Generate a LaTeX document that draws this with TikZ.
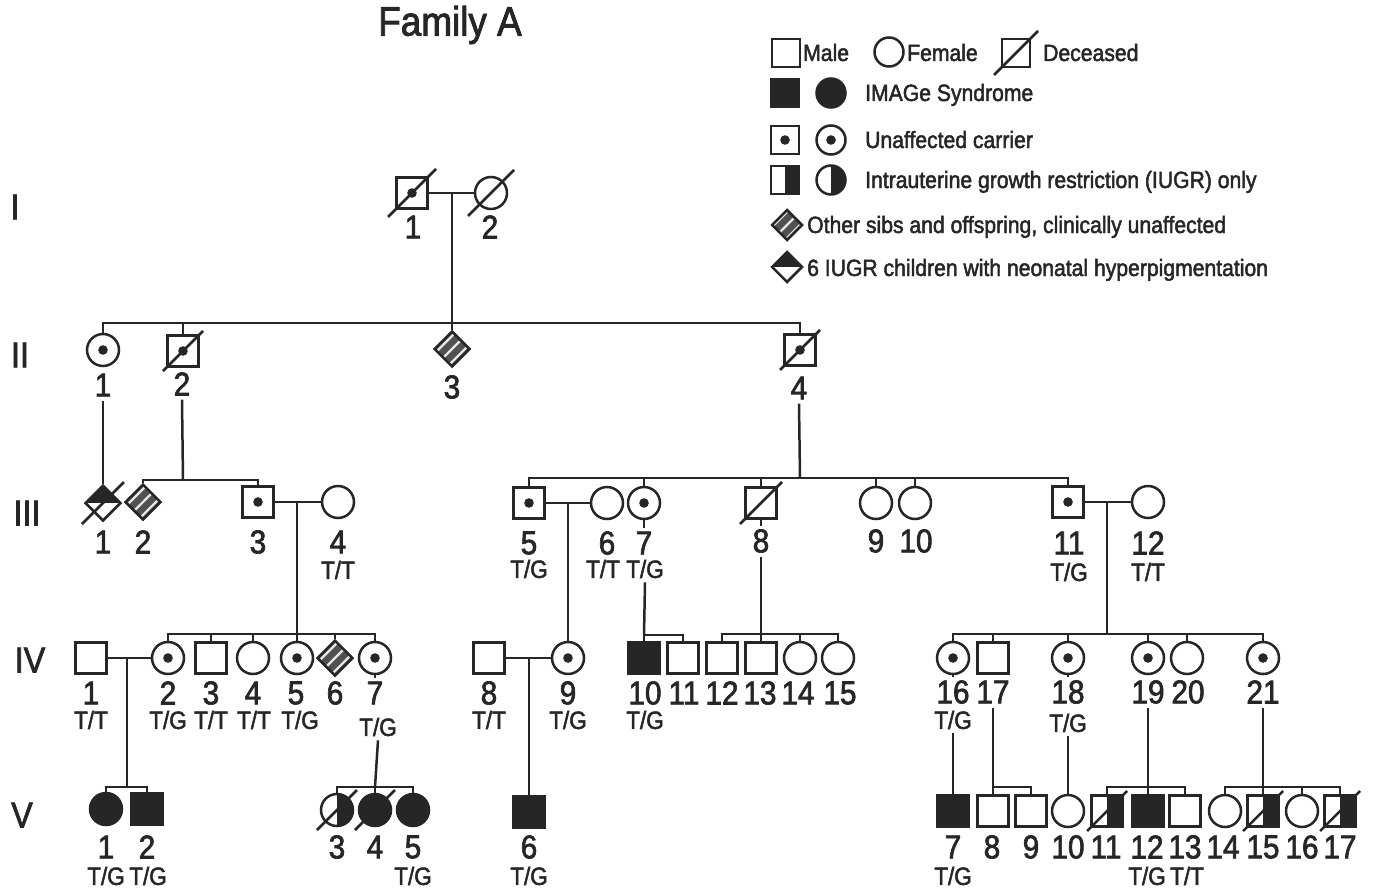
\documentclass[tikz,border=0pt]{standalone}
\usepackage{fontspec}
\setmainfont{Liberation Sans}[FakeStretch=0.9,FakeBold=2]
\usetikzlibrary{shapes.geometric}
\definecolor{ink}{HTML}{262626}
\tikzset{
 base/.style={draw=ink, line width=2.5pt, inner sep=0pt, fill=white},
 male/.style={base, rectangle, minimum size=31pt},
 female/.style={base, circle, minimum size=32pt},
 sibd/.style={base, diamond, minimum size=36pt},
 aff/.style={fill=ink},
 carrier/.style={path picture={\fill[ink] (path picture bounding box.center) circle (4.8pt);}},
 iugr/.style={path picture={\fill[ink] (path picture bounding box.north) rectangle (path picture bounding box.south east);}},
 tophalf/.style={path picture={\fill[ink] (path picture bounding box.west) rectangle (path picture bounding box.north east);}},
 hatch/.style={fill=ink!80, path picture={
   \foreach \d in {-6.5,0,6.5}{\draw[white!90!black,line width=2.4pt] ([shift={(\d-20,\d+20)}]path picture bounding box.center) -- ([shift={(\d+20,\d-20)}]path picture bounding box.center);}}},
 lbl/.style={font=\fontsize{33}{33}\selectfont, inner sep=0pt, text=ink},
 geno/.style={font=\fontsize{25}{25}\selectfont, inner sep=0pt, text=ink},
 gen/.style={font=\fontsize{36}{36}\selectfont, inner sep=1pt, text=ink},
 leg/.style={font=\fontsize{23.5}{23.5}\selectfont, anchor=base west, inner sep=0pt, text=ink},
 ln/.style={draw=ink, line width=2.5pt},
}
\newcommand\decd[2][20]{\draw[ln] ([shift={(-#1,#1)}]#2.center) -- ([shift={(#1,-#1)}]#2.center);}
\begin{document}
\begin{tikzpicture}[x=1pt,y=-1pt]
\fill[white] (0,0) rectangle (1383,888);
\useasboundingbox (0,0) rectangle (1383,888);

% title and generation numerals
\node[font=\fontsize{41}{41}\selectfont, text=ink] (title) at (450,25) {Family A};
\node[gen] (gI) at (15,207) {I};
\node[gen] (gII) at (20,355) {II};
\node[gen] (gIII) at (27,513) {III};
\node[gen] (gIV) at (30,660) {IV};
\node[gen] (gV) at (22,815) {V};

% ---------- legend ----------
\node[male,minimum size=28pt] (Lm) at (786,53) {};
\node[leg] (Lmt) at (803,61) {Male};
\node[female,minimum size=29pt] (Lf) at (889,52) {};
\node[leg] (Lft) at (907,61) {Female};
\node[male,minimum size=28pt] (Ld) at (1016,53) {};
\node[leg] (Ldt) at (1043,61) {Deceased};
\node[male,aff,minimum size=28pt] (La1) at (785,93) {};
\node[female,aff,minimum size=29pt] (La2) at (831,93) {};
\node[leg] (Lat) at (865,101) {IMAGe Syndrome};
\node[male,carrier,minimum size=28pt] (Lc1) at (785,140) {};
\node[female,carrier,minimum size=29pt] (Lc2) at (831,140) {};
\node[leg] (Lct) at (865,148) {Unaffected carrier};
\node[male,iugr,minimum size=28pt] (Li1) at (785,180) {};
\node[female,iugr,minimum size=29pt] (Li2) at (831,180) {};
\node[leg] (Lit) at (865,188) {Intrauterine growth restriction (IUGR) only};
\node[sibd,hatch,minimum size=31pt] (Lh) at (787,225) {};
\node[leg] (Lht) at (807,233) {Other sibs and offspring, clinically unaffected};
\node[sibd,tophalf,minimum size=31pt] (Lt) at (787,267) {};
\node[leg] (Ltt) at (807,276) {6 IUGR children with neonatal hyperpigmentation};

% ---------- Generation I ----------
\node[male,carrier] (I1) at (412,193) {};
\node[female] (I2) at (491,193) {};
\node[lbl] (lI1) at (413,227) {1};
\node[lbl] (lI2) at (490,227) {2};

% ---------- Generation II ----------
\node[female,carrier] (II1) at (103,350) {};
\node[male,carrier] (II2) at (183,351) {};
\node[sibd,hatch] (II3) at (452,349) {};
\node[male,carrier] (II4) at (800,350) {};
\node[lbl] (lII1) at (103,385) {1};
\node[lbl] (lII2) at (182,384) {2};
\node[lbl] (lII3) at (452,387) {3};
\node[lbl] (lII4) at (799,388) {4};

% ---------- Generation III ----------
\node[sibd,tophalf] (III1) at (103,503) {};
\node[sibd,hatch] (III2) at (143,502) {};
\node[male,carrier] (III3) at (258,502) {};
\node[female] (III4) at (338,502) {};
\node[male,carrier] (III5) at (529,503) {};
\node[female] (III6) at (607,503) {};
\node[female,carrier] (III7) at (644,503) {};
\node[male] (III8) at (761,503) {};
\node[female] (III9) at (876,503) {};
\node[female] (III10) at (915,503) {};
\node[male,carrier] (III11) at (1068,502) {};
\node[female] (III12) at (1148,502) {};
\node[lbl] (lIII1) at (103,542) {1};
\node[lbl] (lIII2) at (143,542) {2};
\node[lbl] (lIII3) at (258,542) {3};
\node[lbl] (lIII4) at (338,542) {4};
\node[geno] (gIII4) at (338,570) {T/T};
\node[lbl] (lIII5) at (529,543) {5};
\node[geno] (gIII5) at (529,569) {T/G};
\node[lbl] (lIII6) at (607,543) {6};
\node[geno] (gIII6) at (603,569) {T/T};
\node[lbl] (lIII7) at (644,543) {7};
\node[geno] (gIII7) at (645,569) {T/G};
\node[lbl] (lIII8) at (761,541) {8};
\node[lbl] (lIII9) at (876,541) {9};
\node[lbl] (lIII10) at (916,541) {10};
\node[lbl] (lIII11) at (1069,543) {11};
\node[geno] (gIII11) at (1069,572) {T/G};
\node[lbl] (lIII12) at (1148,543) {12};
\node[geno] (gIII12) at (1148,572) {T/T};

% ---------- Generation IV ----------
\node[male] (IV1) at (91,658) {};
\node[female,carrier] (IV2) at (168,658) {};
\node[male] (IV3) at (211,658) {};
\node[female] (IV4) at (253,658) {};
\node[female,carrier] (IV5) at (297,658) {};
\node[sibd,hatch] (IV6) at (335,658) {};
\node[female,carrier] (IV7) at (375,658) {};
\node[male] (IV8) at (489,658) {};
\node[female,carrier] (IV9) at (568,658) {};
\node[male,aff] (IV10) at (644,658) {};
\node[male] (IV11) at (683,658) {};
\node[male] (IV12) at (722,658) {};
\node[male] (IV13) at (761,658) {};
\node[female] (IV14) at (800,658) {};
\node[female] (IV15) at (838,658) {};
\node[female,carrier] (IV16) at (953,658) {};
\node[male] (IV17) at (993,658) {};
\node[female,carrier] (IV18) at (1068,658) {};
\node[female,carrier] (IV19) at (1148,658) {};
\node[female] (IV20) at (1187,658) {};
\node[female,carrier] (IV21) at (1263,658) {};
\node[lbl] (lIV1) at (91,693) {1};
\node[geno] (gIV1) at (91,720) {T/T};
\node[lbl] (lIV2) at (168,693) {2};
\node[geno] (gIV2) at (168,720) {T/G};
\node[lbl] (lIV3) at (211,693) {3};
\node[geno] (gIV3) at (211,720) {T/T};
\node[lbl] (lIV4) at (253,693) {4};
\node[geno] (gIV4) at (254,720) {T/T};
\node[lbl] (lIV5) at (296,693) {5};
\node[geno] (gIV5) at (300,720) {T/G};
\node[lbl] (lIV6) at (335,693) {6};
\node[lbl] (lIV7) at (375,693) {7};
\node[geno] (gIV7) at (378,727) {T/G};
\node[lbl] (lIV8) at (489,693) {8};
\node[geno] (gIV8) at (489,720) {T/T};
\node[lbl] (lIV9) at (568,693) {9};
\node[geno] (gIV9) at (568,720) {T/G};
\node[lbl] (lIV10) at (645,693) {10};
\node[geno] (gIV10) at (645,720) {T/G};
\node[lbl] (lIV11) at (684,693) {11};
\node[lbl] (lIV12) at (722,693) {12};
\node[lbl] (lIV13) at (760,693) {13};
\node[lbl] (lIV14) at (798,693) {14};
\node[lbl] (lIV15) at (840,693) {15};
\node[lbl] (lIV16) at (953,692) {16};
\node[geno] (gIV16) at (953,720) {T/G};
\node[lbl] (lIV17) at (993,692) {17};
\node[lbl] (lIV18) at (1068,692) {18};
\node[geno] (gIV18) at (1068,723) {T/G};
\node[lbl] (lIV19) at (1148,692) {19};
\node[lbl] (lIV20) at (1188,692) {20};
\node[lbl] (lIV21) at (1263,692) {21};

% ---------- Generation V ----------
\node[female,aff] (V1) at (106,809) {};
\node[male,aff] (V2) at (147,809) {};
\node[female,iugr] (V3) at (337,810) {};
\node[female,aff] (V4) at (375,810) {};
\node[female,aff] (V5) at (413,810) {};
\node[male,aff] (V6) at (529,812) {};
\node[male,aff] (V7) at (953,811) {};
\node[male] (V8) at (993,811) {};
\node[male] (V9) at (1031,811) {};
\node[female] (V10) at (1068,811) {};
\node[male,iugr] (V11) at (1107,811) {};
\node[male,aff] (V12) at (1148,811) {};
\node[male] (V13) at (1185,811) {};
\node[female] (V14) at (1225,811) {};
\node[male,iugr] (V15) at (1263,811) {};
\node[female] (V16) at (1302,811) {};
\node[male,iugr] (V17) at (1340,811) {};
\node[lbl] (lV1) at (106,847) {1};
\node[geno] (gV1) at (106,876) {T/G};
\node[lbl] (lV2) at (147,847) {2};
\node[geno] (gV2) at (148,876) {T/G};
\node[lbl] (lV3) at (337,847) {3};
\node[lbl] (lV4) at (375,847) {4};
\node[lbl] (lV5) at (413,847) {5};
\node[geno] (gV5) at (413,876) {T/G};
\node[lbl] (lV6) at (529,847) {6};
\node[geno] (gV6) at (529,876) {T/G};
\node[lbl] (lV7) at (953,847) {7};
\node[geno] (gV7) at (953,876) {T/G};
\node[lbl] (lV8) at (992,847) {8};
\node[lbl] (lV9) at (1031,847) {9};
\node[lbl] (lV10) at (1068,847) {10};
\node[lbl] (lV11) at (1106,847) {11};
\node[lbl] (lV12) at (1147,847) {12};
\node[geno] (gV12) at (1147,876) {T/G};
\node[lbl] (lV13) at (1185,847) {13};
\node[geno] (gV13) at (1187,876) {T/T};
\node[lbl] (lV14) at (1223,847) {14};
\node[lbl] (lV15) at (1263,847) {15};
\node[lbl] (lV16) at (1302,847) {16};
\node[lbl] (lV17) at (1340,847) {17};

% ---------- connectors ----------
\coordinate (mI) at (452,193);
\coordinate (sII) at (452,323);
\draw[ln] (I1) -- (I2);
\draw[ln] (mI) -- (sII);
\draw[ln] (II1.north) |- (sII) -| (II4.north);
\draw[ln] (II2.north) |- (sII);
\draw[ln] (II3.north) -- (sII);

\draw[ln] ([yshift=-4pt]lII1.south) -- (III1.north);
\coordinate (sIIIa) at (183,480);
\draw[ln] ([yshift=-4pt]lII2.south) -- (sIIIa);
\draw[ln] (III2.north) |- (sIIIa) -| (III3.north);
\coordinate (sIIIb) at (800,478);
\draw[ln] ([yshift=-4pt]lII4.south) -- (sIIIb);
\draw[ln] (III5.north) |- (sIIIb) -| (III11.north);
\foreach \n in {III7,III8,III9,III10} \draw[ln] (\n.north) |- (sIIIb);

\draw[ln] (III3) -- (III4);
\coordinate (mIII3) at (297,502);
\coordinate (sIVa) at (297,634);
\draw[ln] (mIII3) -- (sIVa);
\draw[ln] (IV2.north) |- (sIVa) -| (IV7.north);
\foreach \n in {IV3,IV4,IV5,IV6} \draw[ln] (\n.north) |- (sIVa);

\draw[ln] (III5) -- (III6);
\coordinate (mIII5) at (568,503);
\draw[ln] (mIII5) -- (IV9.north);

\draw[ln] (III7.south) -- ([yshift=3pt]lIII7.north);
\coordinate (sIVb) at (644,635);
\draw[ln] ([yshift=-4pt]gIII7.south) -- (sIVb);
\draw[ln] (IV10.north) -- (sIVb) -| (IV11.north);

\draw[ln] (III8.south) -- ([yshift=3pt]lIII8.north);
\coordinate (sIVd) at (761,634);
\draw[ln] ([yshift=-4pt]lIII8.south) -- (sIVd);
\draw[ln] (IV12.north) |- (sIVd) -| (IV15.north);
\foreach \n in {IV13,IV14} \draw[ln] (\n.north) |- (sIVd);

\draw[ln] (III11) -- (III12);
\coordinate (mIII11) at (1107,502);
\coordinate (sIVc) at (1107,634);
\draw[ln] (mIII11) -- (sIVc);
\draw[ln] (IV16.north) |- (sIVc) -| (IV21.north);
\foreach \n in {IV17,IV18,IV19,IV20} \draw[ln] (\n.north) |- (sIVc);

\draw[ln] (IV1) -- (IV2);
\coordinate (mIV1) at (127,658);
\coordinate (sVa) at (127,787);
\draw[ln] (mIV1) -- (sVa);
\draw[ln] (V1.north) |- (sVa) -| (V2.north);

\draw[ln] (IV7.south) -- ([yshift=3pt]lIV7.north);
\coordinate (sVb) at (375,787);
\draw[ln] ([yshift=-4pt]gIV7.south) -- (sVb);
\draw[ln] (V3.north) |- (sVb) -| (V5.north);
\draw[ln] (V4.north) -- (sVb);

\draw[ln] (IV8) -- (IV9);
\coordinate (mIV8) at (529,658);
\draw[ln] (mIV8) -- (V6.north);

\draw[ln] (IV16.south) -- ([yshift=3pt]lIV16.north);
\draw[ln] ([yshift=-4pt]gIV16.south) -- (V7.north);
\coordinate (sVc) at (993,787);
\draw[ln] ([yshift=-4pt]lIV17.south) -- (sVc);
\draw[ln] (V8.north) -- (sVc) -| (V9.north);
\draw[ln] (IV18.south) -- ([yshift=3pt]lIV18.north);
\draw[ln] ([yshift=-4pt]gIV18.south) -- (V10.north);
\coordinate (sVd) at (1148,787);
\draw[ln] ([yshift=-4pt]lIV19.south) -- (sVd);
\draw[ln] (V11.north) |- (sVd) -| (V13.north);
\draw[ln] (V12.north) -- (sVd);
\coordinate (sVe) at (1263,787);
\draw[ln] ([yshift=-4pt]lIV21.south) -- (sVe);
\draw[ln] (V14.north) |- (sVe) -| (V17.north);
\foreach \n in {V15,V16} \draw[ln] (\n.north) |- (sVe);

% ---------- deceased slashes ----------
\decd[22]{Ld}
\decd[24]{I1}
\decd[23]{I2}
\decd{II2}
\decd{II4}
\decd[21]{III1}
\decd[21]{III8}
\decd{V3}
\decd{V4}
\decd{V11}
\decd{V15}
\decd{V17}
\end{tikzpicture}
\end{document}
